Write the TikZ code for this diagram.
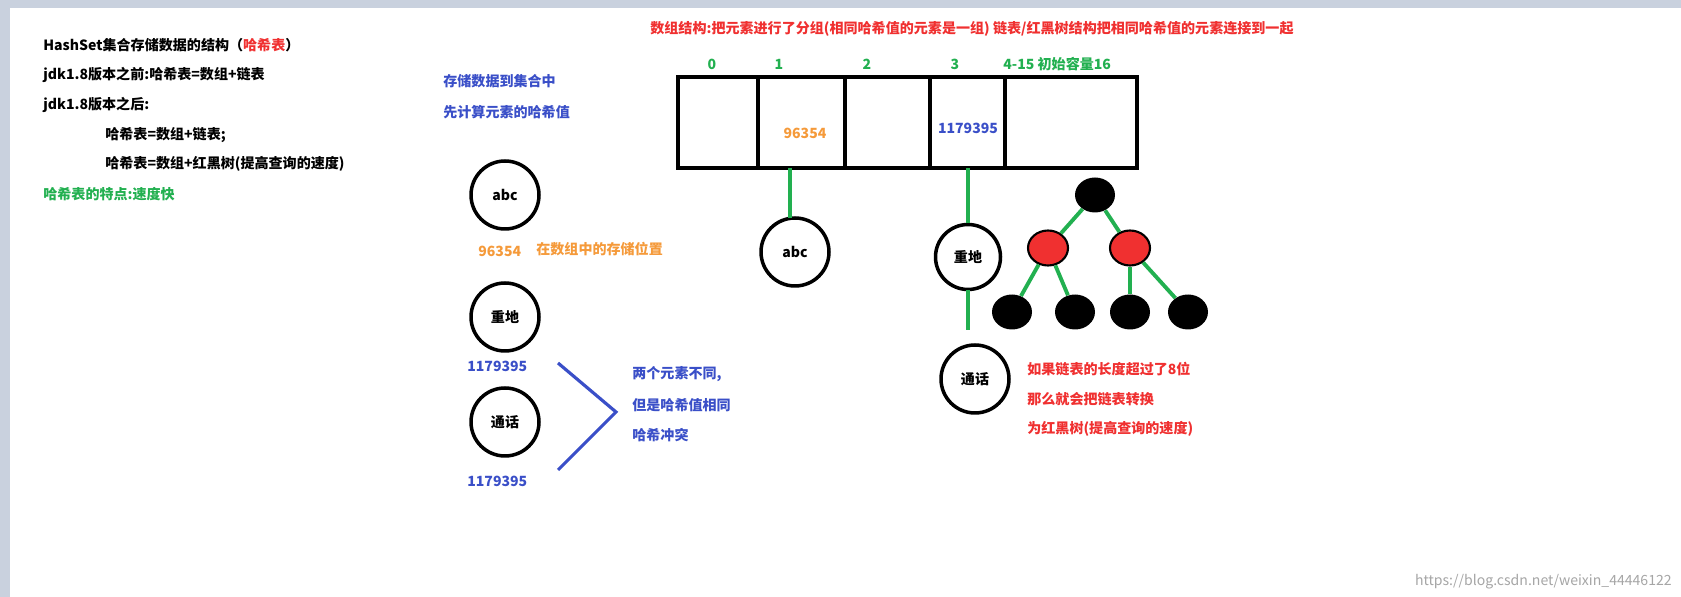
\documentclass[tikz,border=0pt]{standalone}
\usepackage{fontspec}
\usetikzlibrary{shapes.geometric}
\setmainfont{Noto Sans CJK SC}
\definecolor{tred}{HTML}{F03030}
\definecolor{tblue}{HTML}{3A4FC8}
\definecolor{tgreen}{HTML}{22B050}
\definecolor{torange}{HTML}{F59A3A}
\definecolor{frame}{HTML}{C9D1DE}
\begin{document}
\begin{tikzpicture}[x=0.02cm,y=-0.02cm,
  txt/.style={font=\fontsize{8}{10}\selectfont\bfseries,inner sep=0pt},
  lt/.style={txt,anchor=west},
  circ/.style={circle,draw,line width=2pt,minimum size=1.36cm,txt},
  rb/.style={ellipse,fill=black,minimum width=0.8cm,minimum height=0.7cm,inner sep=0pt},
  rr/.style={ellipse,draw,line width=1.2pt,fill=tred,minimum width=0.8cm,minimum height=0.7cm,inner sep=0pt},
  gl/.style={tgreen,line width=2.2pt},
  bl/.style={tblue,line width=1.8pt}]
\useasboundingbox (0,0) rectangle (1681,597);
\fill[frame] (0,0) rectangle (1681,597);
\fill[white] (10,8) rectangle (1681,597);
% left text
\node[lt] (t1) at (43,45) {HashSet集合存储数据的结构（\textcolor{tred}{哈希表}）};
\node[lt] (t2) at (43,75) {jdk1.8版本之前:哈希表=数组+链表};
\node[lt] (t3) at (43,105) {jdk1.8版本之后:};
\node[lt] (t4) at (105,135) {哈希表=数组+链表;};
\node[lt] (t5) at (105,164) {哈希表=数组+红黑树(提高查询的速度)};
\node[lt,tgreen] (t6) at (43,194) {哈希表的特点:速度快};
\node[lt,tblue] (b1) at (443,81) {存储数据到集合中};
\node[lt,tblue] (b2) at (443,112) {先计算元素的哈希值};
% left circles
\node[circ] (c1) at (505,195) {abc};
\node[lt,torange] (h1) at (478,251) {96354};
\node[lt,torange] (h1t) at (536,249) {在数组中的存储位置};
\node[circ] (c2) at (505,317) {重地};
\node[lt,tblue] (h2) at (467,366) {1179395};
\node[circ] (c3) at (505,422) {通话};
\node[lt,tblue] (h3) at (467,481) {1179395};
\coordinate (v) at (616,412);
\draw[bl] (558,363) -- (v) -- (558,470);
\node[lt,tblue] (k1) at (632,374) {两个元素不同,};
\node[lt,tblue] (k2) at (632,405) {但是哈希值相同};
\node[lt,tblue] (k3) at (632,435) {哈希冲突};
% title
\node[lt,tred] (title) at (650,29) {数组结构:把元素进行了分组(相同哈希值的元素是一组) 链表/红黑树结构把相同哈希值的元素连接到一起};
% array
\draw[line width=1.8pt] (678,77) rectangle (1137,168);
\foreach \x in {758,845,930,1005} \draw[line width=1.8pt] (\x,77) -- (\x,168);
\node[txt,tgreen] (i0) at (712,64) {0};
\node[txt,tgreen] (i1) at (779,64) {1};
\node[txt,tgreen] (i2) at (867,64) {2};
\node[txt,tgreen] (i3) at (955,64) {3};
\node[lt,tgreen] (i4) at (1003,64) {4-15 初始容量16};
\node[txt,torange] (a1) at (805,133) {96354};
\node[txt,tblue] (a3) at (968,128) {1179395};
\coordinate (s1) at (790,168);
\coordinate (s3) at (968,168);
\node[circ] (d1) at (795,252) {abc};
\node[circ,minimum size=1.3cm] (d2) at (968,257) {重地};
\node[circ] (d3) at (975,379) {通话};
\draw[gl] (s1) -- (790,218);
\draw[gl] (s3) -- (d2);
\draw[gl] (968,290) -- (968,330);
% tree
\node[rb] (r) at (1095,195) {};
\node[rr] (n1) at (1048,248) {};
\node[rr] (n2) at (1130,248) {};
\node[rb] (l1) at (1012,312) {};
\node[rb] (l2) at (1075,312) {};
\node[rb] (l3) at (1130,312) {};
\node[rb] (l4) at (1188,312) {};
\draw[gl] (r) -- (n1); \draw[gl] (r) -- (n2);
\draw[gl] (n1) -- (l1); \draw[gl] (n1) -- (l2);
\draw[gl] (n2) -- (l3); \draw[gl] (n2) -- (l4);
\node[lt,tred] (m1) at (1027,369) {如果链表的长度超过了8位};
\node[lt,tred] (m2) at (1027,399) {那么就会把链表转换};
\node[lt,tred] (m3) at (1027,429) {为红黑树(提高查询的速度)};
\node[anchor=east,inner sep=0pt,gray!70,font=\fontsize{8}{10}\selectfont] (wm) at (1672,582) {https://blog.csdn.net/weixin\_44446122};
\end{tikzpicture}
\end{document}
